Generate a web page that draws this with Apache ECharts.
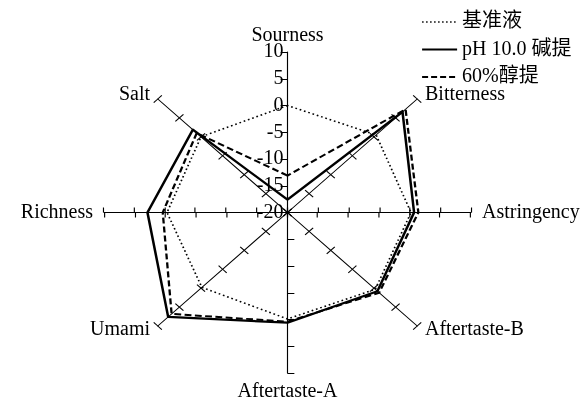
<!DOCTYPE html>
<html>
<head>
<meta charset="utf-8">
<script src="https://cdn.jsdelivr.net/npm/echarts@6.0.0/dist/echarts.min.js"></script>
<style>
html, body { margin: 0; padding: 0; background: #fff; overflow: hidden; }
#wrap { position: relative; width: 584px; height: 400px; overflow: hidden; }
#ticks, #marks, #texts { position: absolute; left: 0; top: 0; width: 584px; height: 400px; }
/* 原图横向被拉宽，雷达本身只能画圆，所以线条层整体横向拉伸 */
#marks { transform: scaleX(1.143); transform-origin: 287.5px 212.5px; }
/* 刻度的另一半：左右镜像后刻度落到轴线另一侧 */
#ticks { transform: scaleX(-1.143); transform-origin: 287.5px 212.5px; }
</style>
</head>
<body>
<div id="wrap"><div id="ticks"></div><div id="marks"></div><div id="texts"></div></div>
<script>
// 指标，从正上方开始逆时针
const indicators = ['Sourness', 'Salt', 'Richness', 'Umami', 'Aftertaste-A', 'Aftertaste-B', 'Astringency', 'Bitterness']
const seriesNames = ['基准液', 'pH 10.0 碱提', '60%醇提']
const baseValues = [0, 0, -0.3, -0.2, -0.1, 0.3, 0.2, 0.5]
const alkaliValues = [-17.6, 1.9, 2.9, 7.6, 0.6, 0.8, 0.7, 6.6]
const ethanolValues = [-13.1, 1.0, 0.4, 6.8, 0.4, 1.2, 1.4, 7.3]
const axisMin = -20
const axisMax = 10
const splitNumber = 6

const cx = 287.5
const cy = 212.5
const radius = 160.5
const stretch = 1.143
const font = '"Liberation Serif", "Times New Roman", "Noto Sans CJK SC", serif'
const lineStyles = [
    { color: '#000', width: 1.5, type: [1.5, 2.5] },
    { color: '#000', width: 2.2, type: 'solid' },
    { color: '#000', width: 2, type: [6, 3] },
]
const allValues = [baseValues, alkaliValues, ethanolValues]
const vertical = ['Sourness', 'Aftertaste-A']

const makeRadar = (tickOf, showLine) => ({
    center: [cx, cy],
    radius: radius,
    startAngle: 90,
    splitNumber: splitNumber,
    axisName: { show: false },
    splitLine: { show: false },
    splitArea: { show: false },
    axisLabel: { show: false },
    axisLine: { show: showLine, lineStyle: { color: '#000', width: 1 } },
    indicator: indicators.map((name) => ({
        name: name,
        min: axisMin,
        max: axisMax,
        axisTick: { ...tickOf(name), lineStyle: { color: '#000', width: 1 } },
    })),
})

const ticks = echarts.init(document.getElementById('ticks'), null, { renderer: 'svg' })
ticks.setOption({
    animation: false,
    backgroundColor: 'transparent',
    radar: makeRadar((name) => ({ show: !vertical.includes(name), inside: true, length: 5 }), false),
})

// 线条层，竖轴上的刻度只朝右
const marks = echarts.init(document.getElementById('marks'), null, { renderer: 'svg' })
marks.setOption({
    animation: false,
    backgroundColor: 'transparent',
    radar: makeRadar((name) => ({
        show: true,
        inside: name !== 'Aftertaste-A',
        length: vertical.includes(name) ? 6 : 5,
    }), true),
    series: seriesNames.map((name, i) => ({
        type: 'radar',
        name: name,
        symbol: 'none',
        lineStyle: lineStyles[i],
        data: [{ name: name, value: allValues[i] }],
        z: 3,
    })),
})

// 文字层：刻度值、指标名、图例
const texts = echarts.init(document.getElementById('texts'))
texts.setOption({
    animation: false,
    backgroundColor: 'transparent',
    radar: {
        center: [cx, cy],
        radius: radius,
        startAngle: 90,
        splitNumber: splitNumber,
        axisName: { show: false },
        splitLine: { show: false },
        splitArea: { show: false },
        axisLine: { show: false },
        axisTick: { show: false },
        indicator: indicators.map((name) => ({
            name: name,
            min: axisMin,
            max: axisMax,
            axisLabel: { show: name === 'Sourness', color: '#000', fontSize: 20, fontFamily: font, margin: 4 },
        })),
    },
    grid: { left: 0, top: 0, width: 1, height: 1, show: false },
    xAxis: { show: false },
    yAxis: { show: false },
    legend: {
        orient: 'vertical',
        left: 421,
        top: 11,
        padding: 0,
        itemWidth: 35,
        itemHeight: 2,
        itemGap: 5.5,
        selectedMode: false,
        itemStyle: { color: 'rgba(0,0,0,0)', borderWidth: 0 },
        lineStyle: { width: 'inherit' },
        textStyle: { fontSize: 20, fontFamily: font, color: '#000', lineHeight: 22 },
    },
    series: seriesNames.map((name, i) => ({
        type: 'line',
        name: name,
        symbol: 'none',
        lineStyle: lineStyles[i],
        data: [],
    })),
    graphic: indicators.map((name, i) => {
        const ang = Math.PI / 2 + i * 2 * Math.PI / indicators.length
        const c = Math.cos(ang)
        const s = Math.sin(ang)
        const onAxis = Math.abs(c) < 0.01
        const gapX = 11
        const gapY = onAxis ? (s > 0 ? 6 : 9) : 6
        return {
            type: 'text',
            x: cx + (radius * stretch + gapX) * c,
            y: cy - (radius + gapY) * s,
            style: {
                text: name,
                fontSize: 20,
                fontFamily: font,
                fill: '#000',
                align: onAxis ? 'center' : (c > 0 ? 'left' : 'right'),
                verticalAlign: onAxis ? (s > 0 ? 'bottom' : 'top') : 'middle',
            },
        }
    }),
})
</script>
</body>
</html>
